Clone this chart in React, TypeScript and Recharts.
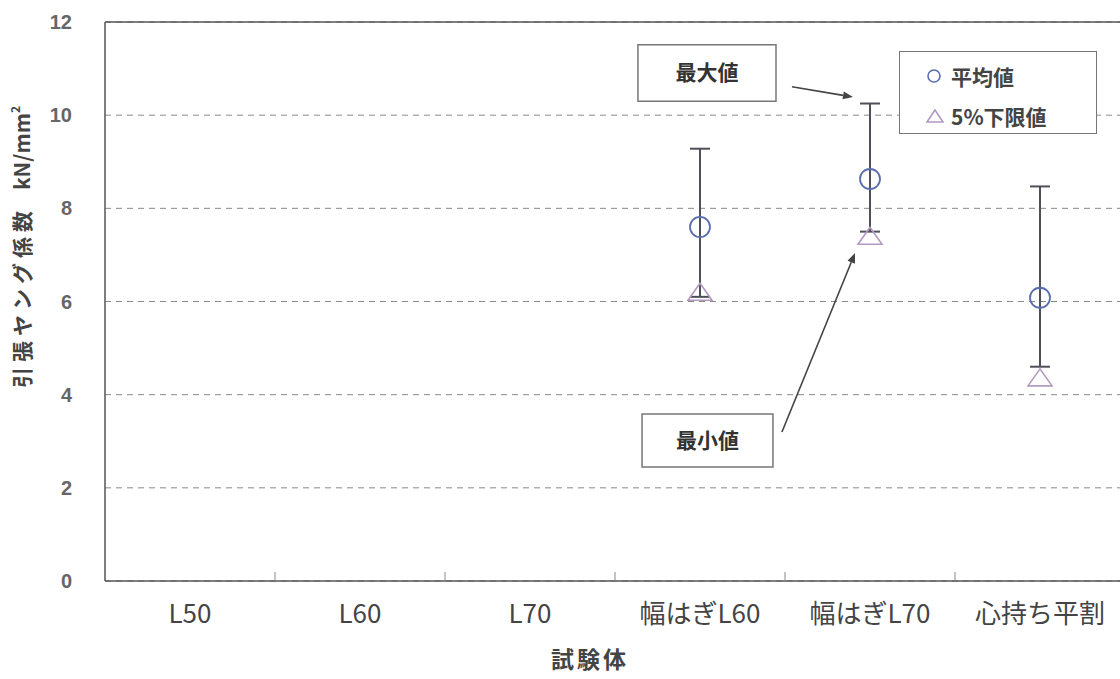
import React from 'react';
import {
    ScatterChart, Scatter, XAxis, YAxis, CartesianGrid, ErrorBar, Legend,
    ReferenceArea, ReferenceLine,
} from 'recharts';

const FONT = '"Noto Sans CJK JP", "Noto Sans", sans-serif';

// categories along the x axis
const categories = ['L50', 'L60', 'L70', '幅はぎL60', '幅はぎL70', '心持ち平割'];

// values (kN/mm2); null = no test
const meanValues = [null, null, null, 7.6, 8.63, 6.08];
const maxValues = [null, null, null, 9.28, 10.25, 8.47];
const minValues = [null, null, null, 6.1, 7.5, 4.6];
const lower5Values = [null, null, null, 6.2, 7.4, 4.36];

const yTicks = [0, 2, 4, 6, 8, 10, 12];

// one point per tested category, centred in its band
const meanRows = categories
    .map((name, i) => ({ name, x: i + 0.5, y: meanValues[i], min: minValues[i], max: maxValues[i] }))
    .filter((r) => r.y !== null)
    .map((r) => ({ ...r, err: [(r.y as number) - (r.min as number), (r.max as number) - (r.y as number)] }));

const lowerRows = categories
    .map((name, i) => ({ name, x: i + 0.5, y: lower5Values[i] }))
    .filter((r) => r.y !== null);

// band centres carry the labels, band edges carry the tick marks
const xTicks = categories.flatMap((_, i) => (i === 0 ? [0.5] : [i, i + 0.5]));

const COLORS = {
    mean: '#5b6eb0',
    lower: '#b49ac0',
    bar: '#4f4f5a',
    axis: '#555',
    grid: '#8a8a8a',
    text: '#444',
};

const XTick = ({ x, y, payload }: any) => {
    const v = payload.value;
    if (Number.isInteger(v)) {
        return <line x1={x} y1={y} x2={x} y2={y - 9} stroke="#888" strokeWidth={1} />;
    }
    return (
        <text x={x} y={y + 42} textAnchor="middle" fill={COLORS.text} fontSize={26} fontFamily={FONT}>
            {categories[Math.floor(v)]}
        </text>
    );
};

const YLabel = () => (
    <text transform="rotate(-90)" x={-247} y={30} textAnchor="middle" fill={COLORS.text}
        fontSize={21} fontWeight={700} fontFamily={FONT}>
        <tspan letterSpacing={5}>引張ヤング係数</tspan>
        <tspan dx={16}>kN/mm</tspan>
        <tspan dy={-10} fontSize={12}>2</tspan>
    </text>
);

const XLabel = () => (
    <text x={590} y={668} textAnchor="middle" fill={COLORS.text} fontSize={23} fontWeight={700}
        fontFamily={FONT} letterSpacing={3}>
        試験体
    </text>
);

const Arrow = (p: any) => {
    const { x1, y1, x2, y2 } = p;
    const a = Math.atan2(y2 - y1, x2 - x1);
    const len = 10, half = 4;
    const bx = x2 - len * Math.cos(a), by = y2 - len * Math.sin(a);
    const pts = [
        [x2, y2],
        [bx + half * Math.sin(a), by - half * Math.cos(a)],
        [bx - half * Math.sin(a), by + half * Math.cos(a)],
    ].map((q) => q.join(',')).join(' ');
    return (
        <g>
            <line x1={x1} y1={y1} x2={bx} y2={by} stroke="#444" strokeWidth={1.6} />
            <polygon points={pts} fill="#444" />
        </g>
    );
};

const LegendBox = () => (
    <div style={{
        boxSizing: 'border-box', width: 198, height: 83, border: '1.5px solid #777', background: '#fff',
        padding: '4px 0 0 26px', fontFamily: FONT, fontSize: 21, fontWeight: 700, color: COLORS.text,
    }}>
        <div style={{ height: 40, display: 'flex', alignItems: 'center' }}>
            <svg width={16} height={16} style={{ marginRight: 9 }}>
                <circle cx={8} cy={8} r={6} fill="none" stroke={COLORS.mean} strokeWidth={1.6} />
            </svg>
            平均値
        </div>
        <div style={{ height: 40, display: 'flex', alignItems: 'center' }}>
            <svg width={18} height={16} style={{ marginRight: 7 }}>
                <polygon points="9,2 1,14 17,14" fill="none" stroke={COLORS.lower} strokeWidth={1.6} />
            </svg>
            5%下限値
        </div>
    </div>
);

const boxLabel = (value: string) => ({
    value, position: 'center' as const, fill: '#333', fontSize: 21, fontWeight: 700, fontFamily: FONT,
});

export default function App() {
    return (
        <div style={{ position: 'fixed', left: 0, top: 0, width: 1120, height: 679, overflow: 'hidden', background: '#fff' }}>
            <ScatterChart width={1130} height={679} margin={{ top: 22, right: 5, left: 0, bottom: 38 }}>
                <CartesianGrid vertical={false} stroke={COLORS.grid} strokeDasharray="6 5" />
                <XAxis
                    dataKey="x"
                    type="number"
                    domain={[0, categories.length]}
                    ticks={xTicks}
                    interval={0}
                    height={60}
                    tickSize={0}
                    tickMargin={0}
                    tickLine={false}
                    tick={<XTick />}
                    stroke={COLORS.axis}
                    strokeWidth={1.5}
                    label={<XLabel />}
                />
                <YAxis
                    dataKey="y"
                    type="number"
                    domain={[0, 12]}
                    ticks={yTicks}
                    width={105}
                    tickLine={false}
                    tickSize={0}
                    tickMargin={33}
                    stroke={COLORS.axis}
                    strokeWidth={1.5}
                    tick={{ fill: '#666', fontSize: 20, fontWeight: 700, fontFamily: 'Liberation Sans, Arial, sans-serif' }}
                    label={<YLabel />}
                />
                <ReferenceLine y={12} stroke={COLORS.axis} strokeWidth={1.5} />
                <Legend layout="vertical" align="center" verticalAlign="middle" content={<LegendBox />}
                    wrapperStyle={{ left: 899, top: 51, width: 198, height: 83 }} />

                {/* call-outs */}
                <ReferenceArea x1={3.135} x2={3.947} y1={10.3} y2={11.51} stroke="#777" strokeWidth={1.5}
                    fill="#fff" fillOpacity={1} label={boxLabel('最大値')} />
                <ReferenceLine segment={[{ x: 4.041, y: 10.61 }, { x: 4.4, y: 10.39 }]} shape={<Arrow />} />
                <ReferenceArea x1={3.159} x2={3.929} y1={2.447} y2={3.585} stroke="#777" strokeWidth={1.5}
                    fill="#fff" fillOpacity={1} label={boxLabel('最小値')} />
                <ReferenceLine segment={[{ x: 3.982, y: 3.199 }, { x: 4.412, y: 7.042 }]} shape={<Arrow />} />

                <Scatter
                    name="5%下限値"
                    data={lowerRows}
                    isAnimationActive={false}
                    shape={(p: any) => (
                        <polygon
                            points={`${p.cx},${p.cy - 9} ${p.cx - 12},${p.cy + 8} ${p.cx + 12},${p.cy + 8}`}
                            fill="none" stroke={COLORS.lower} strokeWidth={1.6}
                        />
                    )}
                />
                <Scatter
                    name="平均値"
                    data={meanRows}
                    isAnimationActive={false}
                    shape={(p: any) => (
                        <circle cx={p.cx} cy={p.cy} r={10} fill="none" stroke={COLORS.mean} strokeWidth={1.8} />
                    )}
                >
                    <ErrorBar dataKey="err" direction="y" width={10} stroke={COLORS.bar} strokeWidth={2}
                        isAnimationActive={false} />
                </Scatter>
            </ScatterChart>
        </div>
    );
}
